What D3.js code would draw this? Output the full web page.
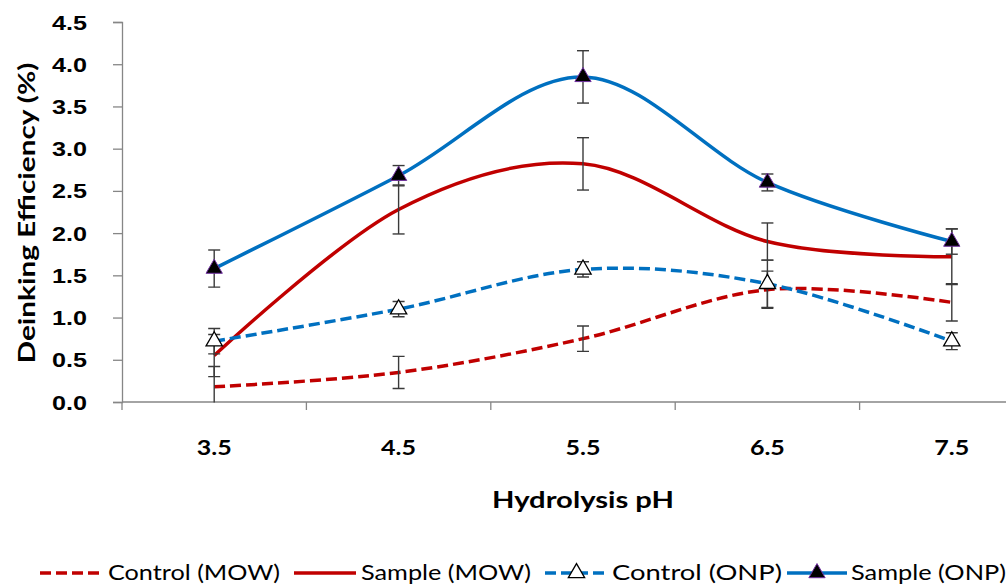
<!DOCTYPE html>
<html><head><meta charset="utf-8">
<script src="https://cdn.jsdelivr.net/npm/d3@7"></script>
<style>
html,body{margin:0;padding:0;background:#fff;overflow:hidden;}
svg{display:block;font-family:Lato,"Open Sans",sans-serif;}
</style></head>
<body><svg id="chart" width="1006" height="585"></svg>
<script>
const categories = ["3.5","4.5","5.5","6.5","7.5"];
const yTicks = [0,0.5,1,1.5,2,2.5,3,3.5,4,4.5];
const seriesNames = ["Control (MOW)","Sample (MOW)","Control (ONP)","Sample (ONP)"];
const controlMOW = [0.18,0.35,0.75,1.33,1.18];
const controlMOWErr = [0.24,0.19,0.15,0.22,0.22];
const sampleMOW = [0.55,2.28,2.82,1.90,1.72];
const sampleMOWErr = [0.25,0.29,0.31,0.22,0.33];
const controlONP = [0.72,1.10,1.57,1.40,0.72];
const controlONPErr = [0.15,0.09,0.09,0.28,0.10];
const sampleONP = [1.58,2.68,3.85,2.60,1.90];
const sampleONPErr = [0.22,0.12,0.31,0.10,0.15];

const svg = d3.select("#chart");
const x = d3.scaleBand().domain(categories).range([122,1044]).paddingInner(0).paddingOuter(0);
const y = d3.scaleLinear().domain([0,4.5]).range([402,22]);
const cx = c => x(c) + x.bandwidth()/2;
const RED="#C00000", BLUE="#0070C0", AXIS="#868686";

// axes
const yAxis = svg.append("g").attr("transform","translate(122,0)")
  .call(d3.axisLeft(y).tickValues(yTicks).tickFormat(d3.format(".1f")).tickSizeOuter(0).tickSize(9).tickPadding(26));
yAxis.select(".domain").attr("stroke",AXIS).attr("stroke-width",1.3);
yAxis.selectAll(".tick line").attr("stroke",AXIS).attr("stroke-width",1.3);
yAxis.selectAll(".tick text").attr("font-size",20).attr("font-weight","bold").attr("fill","#000")
  .attr("textLength",35).attr("lengthAdjust","spacingAndGlyphs").attr("dy","0.35em");

const xAxisG = svg.append("g").attr("transform","translate(0,402)");
xAxisG.append("line").attr("x1",122).attr("x2",1044).attr("stroke",AXIS).attr("stroke-width",1.3);
const bounds = categories.map(c=>x(c)).concat([x(categories[categories.length-1])+x.bandwidth()]);
xAxisG.selectAll("line.tk").data(bounds).enter().append("line").attr("class","tk")
  .attr("x1",d=>d).attr("x2",d=>d).attr("y1",0).attr("y2",8).attr("stroke",AXIS).attr("stroke-width",1.3);
xAxisG.selectAll("text").data(categories).enter().append("text")
  .attr("x",d=>cx(d)).attr("y",53).attr("text-anchor","middle")
  .attr("font-size",20).attr("font-weight","bold").attr("textLength",35).attr("lengthAdjust","spacingAndGlyphs")
  .text(d=>d);

// titles
svg.append("text").attr("x",583).attr("y",508).attr("text-anchor","middle")
  .attr("font-size",23).attr("font-weight","bold").attr("textLength",182).attr("lengthAdjust","spacingAndGlyphs")
  .text("Hydrolysis pH");
svg.append("text").attr("transform","translate(35,213) rotate(-90)").attr("text-anchor","middle")
  .attr("font-size",23).attr("font-weight","bold").attr("textLength",301).attr("lengthAdjust","spacingAndGlyphs")
  .text("Deinking Efficiency (%)");

const series = [
  {name:seriesNames[0], v:controlMOW, e:controlMOWErr, color:RED, dash:"11,5", marker:null},
  {name:seriesNames[1], v:sampleMOW, e:sampleMOWErr, color:RED, dash:null, marker:null},
  {name:seriesNames[2], v:controlONP, e:controlONPErr, color:BLUE, dash:"11,5", marker:"open"},
  {name:seriesNames[3], v:sampleONP, e:sampleONPErr, color:BLUE, dash:null, marker:"filled"}
];

const line = d3.line().x(d=>cx(d.c)).y(d=>y(d.v)).curve(d3.curveCatmullRom.alpha(0));
const clipId="plotclip";
svg.append("clipPath").attr("id",clipId).append("rect").attr("x",122).attr("y",0).attr("width",922).attr("height",402.5);

const plot = svg.append("g");
series.forEach(s=>{
  const pts = categories.map((c,i)=>({c, v:s.v[i], e:s.e[i]}));
  plot.append("path").datum(pts).attr("d",line).attr("fill","none").attr("stroke",s.color)
    .attr("stroke-width",3.5).attr("stroke-dasharray",s.dash).attr("stroke-linecap","butt");
});
const eg = plot.append("g").attr("clip-path",`url(#${clipId})`);
series.forEach(s=>{
  categories.forEach((c,i)=>{
    const xx=cx(c), lo=y(s.v[i]-s.e[i]), hi=y(s.v[i]+s.e[i]);
    eg.append("line").attr("x1",xx).attr("x2",xx).attr("y1",lo).attr("y2",hi).attr("stroke","#3a3a3a").attr("stroke-width",1.4);
    [lo,hi].forEach(yy=>eg.append("line").attr("x1",xx-6).attr("x2",xx+6).attr("y1",yy).attr("y2",yy).attr("stroke","#3a3a3a").attr("stroke-width",1.4));
  });
});
const tri = d3.symbol().type(d3.symbolTriangle).size(115);
function marker(g, kind, xx, yy){
  if(kind==="open") g.append("path").attr("d",tri).attr("transform",`translate(${xx},${yy})`).attr("fill","#fff").attr("stroke","#000").attr("stroke-width",1.3);
  else if(kind==="filled") g.append("path").attr("d",tri).attr("transform",`translate(${xx},${yy})`).attr("fill","#000").attr("stroke","#7030A0").attr("stroke-width",1);
}
series.forEach(s=>{
  if(!s.marker) return;
  categories.forEach((c,i)=>marker(plot, s.marker, cx(c), y(s.v[i])));
});

// legend
const legend = [
  {x1:40,x2:103,tx:108,tw:172},
  {x1:294,x2:356,tx:361,tw:170},
  {x1:545,x2:608,tx:612,tw:170},
  {x1:787,x2:847,tx:851,tw:155}
];
const lg = svg.append("g");
series.forEach((s,i)=>{
  const L=legend[i], ly=573;
  lg.append("line").attr("x1",L.x1).attr("x2",L.x2).attr("y1",ly).attr("y2",ly).attr("stroke",s.color)
    .attr("stroke-width",3.5).attr("stroke-dasharray",s.dash);
  if(s.marker) marker(lg, s.marker, (L.x1+L.x2)/2, ly);
  lg.append("text").attr("x",L.tx).attr("y",ly+7).attr("font-size",21).attr("fill","#000")
    .attr("textLength",L.tw).attr("lengthAdjust","spacingAndGlyphs").text(s.name);
});
</script></body></html>
